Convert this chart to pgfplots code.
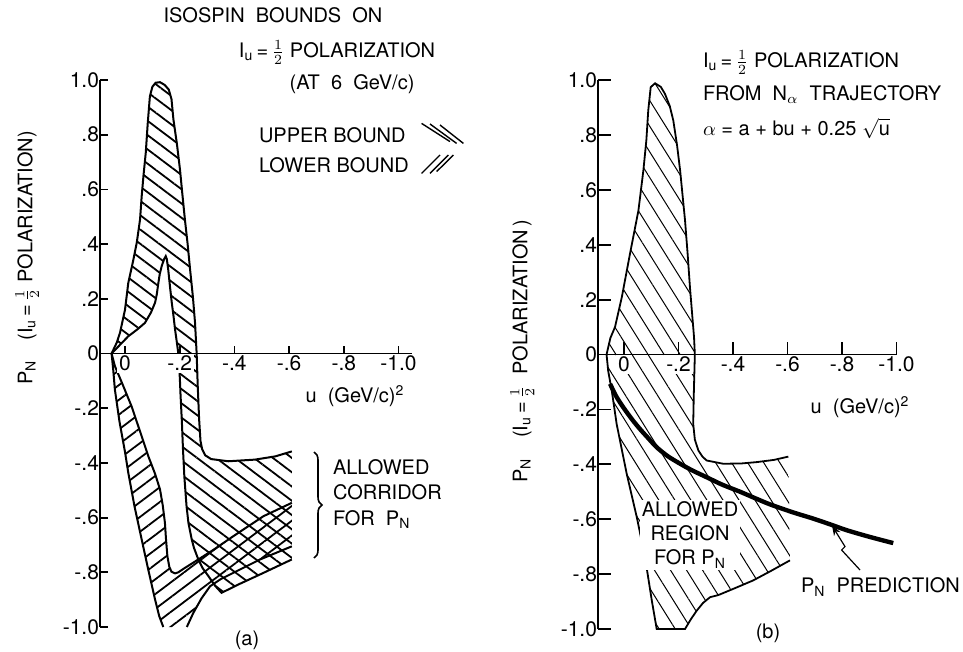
\documentclass[border=0pt]{standalone}
\usepackage{fontspec}
\setmainfont{TeX Gyre Heros}
\usepackage{pgfplots}
\usepackage{pgfplotstable}
\pgfplotsset{compat=1.18}
\usetikzlibrary{patterns.meta,decorations.pathreplacing,arrows.meta}

% panel (a): upper-bound region (x = -u)
\pgfplotstableread{
x y
-0.049 0
-0.030 0.040
-0.018 0.077
0.000 0.160
0.012 0.258
0.030 0.340
0.043 0.405
0.055 0.49
0.061 0.575
0.068 0.655
0.076 0.735
0.083 0.84
0.091 0.94
0.100 0.975
0.112 0.99
0.128 0.992
0.145 0.982
0.160 0.965
0.170 0.930
0.177 0.856
0.190 0.765
0.201 0.673
0.210 0.580
0.219 0.490
0.229 0.400
0.238 0.307
0.248 0.210
0.256 0.113
0.262 0.000
0.266 -0.120
0.271 -0.240
0.276 -0.320
0.282 -0.350
0.293 -0.372
0.315 -0.386
0.378 -0.394
0.475 -0.388
0.550 -0.376
0.610 -0.358
0.610 -0.753
0.500 -0.805
0.420 -0.842
0.353 -0.875
0.330 -0.850
0.305 -0.814
0.284 -0.785
0.268 -0.753
0.252 -0.710
0.244 -0.680
0.232 -0.620
0.225 -0.558
0.217 -0.450
0.212 -0.350
0.208 -0.250
0.203 -0.150
0.201 -0.101
0.198 -0.040
0.195 0.000
0.189 0.045
0.183 0.088
0.177 0.140
0.171 0.186
0.165 0.240
0.158 0.307
0.153 0.345
0.149 0.356
0.143 0.345
0.134 0.319
0.127 0.290
0.122 0.258
0.116 0.215
0.110 0.186
0.095 0.150
0.073 0.112
0.045 0.088
0.012 0.063
-0.020 0.030
-0.049 0
}\upperA

% panel (a): lower-bound region
\pgfplotstableread{
x y
-0.049 0
-0.043 -0.060
-0.037 -0.132
-0.020 -0.250
0.000 -0.360
0.012 -0.436
0.035 -0.560
0.061 -0.680
0.085 -0.790
0.110 -0.900
0.125 -0.960
0.140 -1.000
0.226 -1.000
0.250 -0.948
0.280 -0.895
0.311 -0.851
0.350 -0.825
0.396 -0.802
0.494 -0.753
0.610 -0.705
0.610 -0.546
0.506 -0.595
0.396 -0.668
0.320 -0.720
0.268 -0.753
0.219 -0.784
0.195 -0.800
0.183 -0.804
0.170 -0.798
0.162 -0.780
0.155 -0.741
0.150 -0.680
0.146 -0.619
0.138 -0.555
0.128 -0.497
0.110 -0.440
0.085 -0.375
0.055 -0.285
0.024 -0.193
-0.010 -0.110
-0.037 -0.046
-0.049 0
}\lowerA

% panel (b): allowed region
\pgfplotstableread{
x y
0.609 -0.750
0.540 -0.788
0.474 -0.823
0.410 -0.850
0.352 -0.874
0.340 -0.878
0.316 -0.884
0.290 -0.905
0.267 -0.933
0.245 -0.965
0.224 -1.000
0.120 -1.000
0.102 -0.896
0.077 -0.738
0.047 -0.593
0.010 -0.435
-0.027 -0.253
-0.045 -0.131
-0.058 -0.060
-0.064 0.000
-0.050 0.060
-0.033 0.100
-0.008 0.209
0.022 0.367
0.053 0.525
0.071 0.670
0.082 0.780
0.089 0.889
0.098 0.974
0.114 0.988
0.135 0.975
0.150 0.950
0.168 0.905
0.181 0.852
0.195 0.760
0.206 0.670
0.224 0.488
0.234 0.360
0.242 0.245
0.257 0.063
0.260 0.000
0.256 -0.150
0.254 -0.253
0.260 -0.310
0.273 -0.350
0.288 -0.372
0.303 -0.386
0.364 -0.398
0.430 -0.397
0.487 -0.392
0.550 -0.384
0.603 -0.372
}\regionB

% panel (b): P_N prediction
\pgfplotstableread{
x y
-0.051 -0.107
-0.030 -0.150
-0.003 -0.192
0.030 -0.237
0.059 -0.272
0.090 -0.306
0.120 -0.338
0.160 -0.370
0.206 -0.398
0.250 -0.422
0.303 -0.447
0.360 -0.474
0.426 -0.500
0.480 -0.523
0.536 -0.546
0.620 -0.575
0.695 -0.598
0.760 -0.620
0.817 -0.640
0.900 -0.664
0.988 -0.687
}\predB

\pgfplotsset{
  seg/.style 2 args={x filter/.code={\ifnum\coordindex<#1\relax\def\pgfmathresult{}\fi\ifnum\coordindex>#2\relax\def\pgfmathresult{}\fi}},
  panel/.style={
    anchor=south west, clip=false, axis on top=true,
    axis x line*=middle, axis y line*=left,
    axis line style={line width=0.9pt,-},
    tick style={line width=0.9pt, black},
    tick align=inside,
    ymin=-1, ymax=1,
    ytick={-1,-0.8,-0.6,-0.4,-0.2,0,0.2,0.4,0.6,0.8,1},
    yticklabels={-1.0,-.8,-.6,-.4,-.2,0,.2,.4,.6,.8,1.0},
    xtick={0,0.2,0.4,0.6,0.8,1},
    xticklabels={0,-.2,-.4,-.6,-.8,-1.0},
    ticklabel style={font=\fontsize{10.5}{12}\selectfont},
    xticklabel style={fill=white, inner sep=1pt},
  }
}
\newcommand{\half}{\smash{$\frac{1}{2}$}}
\newcommand{\Iu}{\smash{$\mathrm{I}_{\mathrm{u}}$}}

\begin{document}
\begin{tikzpicture}[every node/.style={inner sep=0.3pt}]
\path[use as bounding box] (0pt,0pt) rectangle (481.5pt,-326pt);

% ---------------- panel (a)
\begin{axis}[panel, at={(50pt,-313.5pt)}, x=136.75pt, y=136.75pt,
  xmin=-0.0914, xmax=1.049, major tick length=3.8pt]
\addplot[draw=none, pattern={Lines[angle=-37,distance=5.7pt,line width=0.9pt]}] table {\upperA} -- cycle;
\addplot[draw=none, pattern={Lines[angle=37,distance=5.9pt,line width=0.9pt]}] table {\lowerA} -- cycle;
\addplot[line width=1pt, seg={0}{38}] table {\upperA};
\addplot[line width=1pt, seg={39}{200}] table {\upperA};
\addplot[line width=1pt, seg={0}{11}] table {\lowerA};
\addplot[line width=1pt, seg={12}{19}] table {\lowerA};
\addplot[line width=1pt, seg={20}{200}] table {\lowerA};
\end{axis}

% ---------------- panel (b)
\begin{axis}[panel, at={(299pt,-314.5pt)}, x=136.25pt, y=137.25pt,
  xmin=-0.0954, xmax=1.0, major tick length=6.5pt]
\addplot[draw=none, pattern={Lines[angle=-58,distance=6.8pt,line width=0.5pt]}] table {\regionB} -- cycle;
\addplot[line width=0.9pt] table {\regionB};
\addplot[line width=2.2pt, smooth] table {\predB};
\end{axis}

% ---------------- texts panel (a)
\node at (136.5pt,-7.5pt) {ISOSPIN\ \ BOUNDS\ \ ON};
\node at (168.5pt,-25pt) {\Iu\,=\,\half\ POLARIZATION};
\node at (176pt,-42pt) {(AT\ \ 6\ \ GeV/c)};
\node[anchor=west] at (129pt,-67.5pt) {UPPER BOUND};
\node[anchor=west] at (129pt,-82.5pt) {LOWER BOUND};
\draw[line width=0.7pt] (210.8pt,-61.7pt) -- (225pt,-70.8pt)
  (215pt,-62pt) -- (228.3pt,-71.7pt) (220pt,-62.5pt) -- (231.7pt,-71.7pt);
\draw[line width=0.7pt] (210.8pt,-86.7pt) -- (220pt,-77.5pt)
  (215pt,-86.7pt) -- (224.2pt,-77.5pt) (218.3pt,-85.8pt) -- (226.7pt,-77.5pt);
\node[rotate=90] at (13.5pt,-129pt) {P\textsubscript{N}\hspace{1em}(\Iu\,=\,\half\ POLARIZATION)};
\node at (177.5pt,-198pt) {u\ \ (GeV/c)\textsuperscript{2}};
\draw[line width=0.8pt, decorate, decoration={brace, amplitude=4pt}] (157pt,-226pt) -- (157pt,-279pt);
\node[anchor=west, align=left, font=\linespread{1.05}\selectfont] at (166pt,-247pt) {ALLOWED\\CORRIDOR\\FOR\ \ P\textsubscript{N}};
\node at (123.5pt,-320pt) {(a)};

% ---------------- texts panel (b)
\node[anchor=west] at (351pt,-30pt) {\Iu\,=\,\half\ POLARIZATION};
\node[anchor=west] at (351pt,-46.5pt) {FROM\ \ N\smash{\textsubscript{$\alpha$}}\ \ TRAJECTORY};
\node[anchor=west] at (351pt,-64pt) {$\alpha$ = a + bu + 0.25 \smash{$\sqrt{\mbox{u}}$}};
\node[rotate=90] at (261pt,-175.5pt) {P\textsubscript{N}\hspace{1em}(\Iu\,=\,\half\ \ POLARIZATION\,)};
\node at (430pt,-203.5pt) {u\ \ (GeV/c)\textsuperscript{2}};
\node[align=center, fill=white, inner sep=1pt] at (345pt,-267.5pt) {ALLOWED\\REGION\\FOR\ P\textsubscript{N}};
\node[anchor=west] at (400pt,-293.5pt) {P\textsubscript{N}\ \ PREDICTION};
\draw[line width=0.6pt, -{Stealth[length=5pt]}] (430pt,-285pt) -- (420.8pt,-275pt) -- (422.5pt,-273.3pt) -- (416pt,-262.8pt);
\node at (384pt,-316.5pt) {(b)};
\end{tikzpicture}
\end{document}
